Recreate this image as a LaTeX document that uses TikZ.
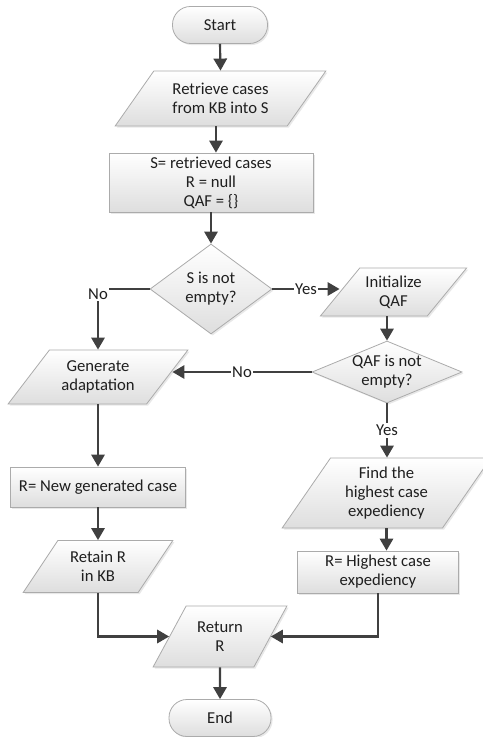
\documentclass[tikz,border=0pt]{standalone}
\usepackage{fontspec}
\setmainfont{Carlito}
\usetikzlibrary{shapes.geometric,arrows.meta,shadows,calc}
\begin{document}
\begin{tikzpicture}[x=0.75pt,y=-0.75pt,
  txtfont/.style={font=\fontsize{12.5}{14.25}\selectfont, text=black!88},
  base/.style={draw=black!33, line width=0.6pt, top color=white, bottom color=black!13,
    txtfont, align=center, inner sep=1pt,
    drop shadow={shadow xshift=1.2pt, shadow yshift=-1.2pt, opacity=0.18}},
  term/.style={base, rectangle, rounded corners=13.5pt},
  proc/.style={base, rectangle},
  io/.style={base, trapezium, trapezium stretches=true, inner sep=0pt},
  dec/.style={base, diamond, inner sep=0pt},
  ln/.style={draw=black!75, line width=1.6pt},
  arr/.style={ln, -{Triangle[length=9pt,width=10pt]}},
  lbl/.style={fill=white, inner sep=1.2pt, txtfont},
  dtxt/.style={txtfont, align=center, inner sep=0pt}
]
\useasboundingbox (0,0) rectangle (482,737);

\node[term, minimum width=71.25pt, minimum height=27.75pt] (start) at (220,25) {Start};
\node[io, trapezium left angle=47.7, trapezium right angle=132.3,
      minimum width=158.25pt, minimum height=41.25pt] (retr) at (220.5,98.5) {Retrieve cases\\from KB into S};
\node[proc, minimum width=153pt, minimum height=44.25pt] (boxS) at (211,182.5) {S= retrieved cases\\R = null\\QAF = \{\}};
\node[dec, minimum width=91.5pt, minimum height=67.5pt] (sdec) at (211,289) {};
\node[dtxt] (sdect) at (sdec) {S is not\\empty?};
\node[io, trapezium left angle=45, trapezium right angle=135,
      minimum width=110.25pt, minimum height=36pt] (init) at (393.5,292) {Initialize\\QAF};
\node[dec, minimum width=112.5pt, minimum height=46.5pt] (qdec) at (387,372) {};
\node[dtxt] (qdect) at (qdec) {QAF is not\\empty?};
\node[io, trapezium left angle=46.1, trapezium right angle=133.9,
      minimum width=135pt, minimum height=40.5pt] (gen) at (98,377) {Generate\\adaptation};
\node[proc, minimum width=131.25pt, minimum height=30pt] (boxN) at (98,487) {R= New generated case};
\node[io, trapezium left angle=51.7, trapezium right angle=128.3,
      minimum width=112.5pt, minimum height=39pt] (retain) at (98,566.5) {Retain R\\in KB};
\node[io, trapezium left angle=55.6, trapezium right angle=124.4,
      minimum width=156.75pt, minimum height=52.5pt] (find) at (386.5,493) {Find the\\highest case\\expediency};
\node[proc, minimum width=120.75pt, minimum height=31.5pt] (boxH) at (378,572) {R= Highest case\\expediency};
\node[io, trapezium left angle=53, trapezium right angle=127,
      minimum width=100.5pt, minimum height=45.75pt] (ret) at (220,636.5) {Return\\R};
\node[term, minimum width=76.5pt, minimum height=27.75pt] (end) at (220,718) {End};

\draw[arr] (start.south) -- (retr.north);
\draw[arr] ([xshift=-3.4pt]retr.south) -- ([xshift=-3.4pt]retr.south |- boxS.north);
\draw[arr] (boxS.south) -- (sdec.north);
\draw[ln] (sdec.west) -- (sdec.west -| gen.north);
\draw[arr] (sdec.west -| gen.north) -- (gen.north);
\node[lbl, yshift=-4pt] (nolbl1) at (sdec.west -| gen.north) {No};
\draw[arr] (sdec.east) -- (sdec.east -| init.west) node[midway, lbl] (yeslbl1) {Yes};
\draw[arr] (init.south -| qdec.north) -- (qdec.north);
\draw[arr] (qdec.west) -- ([xshift=3.5pt]qdec.west -| gen.east) node[midway, lbl] (nolbl2) {No};
\draw[arr] (qdec.south) -- (qdec.south |- find.north) node[midway, lbl] (yeslbl2) {Yes};
\draw[arr] (gen.south) -- (gen.south |- boxN.north);
\draw[arr] (boxN.south) -- (boxN.south |- retain.north);
\draw[arr] (find.south) -- (find.south |- boxH.north);
\draw[arr] (retain.south) |- (ret.west);
\draw[arr] (boxH.south) |- (ret.east);
\draw[arr] (ret.south) -- (end.north);
\end{tikzpicture}
\end{document}
